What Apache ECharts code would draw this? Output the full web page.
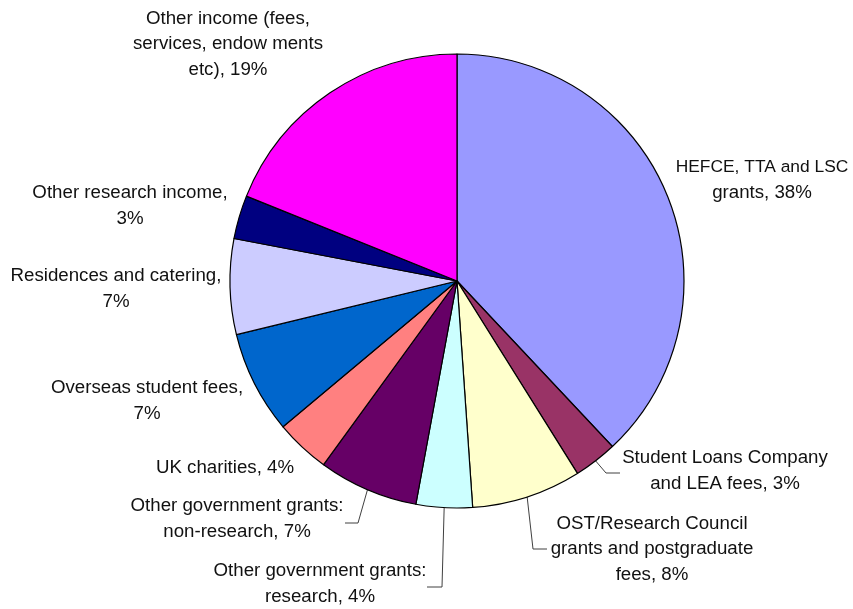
<!DOCTYPE html>
<html style="height: 100%">
<head>
<meta charset="utf-8">
<title>Sources of income</title>
<script src="https://cdn.jsdelivr.net/npm/echarts@6/dist/echarts.min.js"></script>
</head>
<body style="height: 100%; margin: 0; background: #fff">
<div id="container" style="width: 853px; height: 609px"></div>
<script type="text/javascript">
// slices, clockwise from 12 o'clock
var names = ['HEFCE, TTA and LSC grants', 'Student Loans Company and LEA fees',
    'OST/Research Council grants and postgraduate fees', 'Other government grants: research',
    'Other government grants: non-research', 'UK charities', 'Overseas student fees',
    'Residences and catering', 'Other research income', 'Other income (fees, services, endowments etc)'];
var shares = [38.0, 3.1, 7.8, 4.0, 7.1, 3.9, 7.3, 6.8, 3.1, 18.9];
var labels = [
    'HEFCE, TTA and LSC\ngrants, 38%',
    'Student Loans Company\nand LEA fees, 3%',
    'OST/Research Council\ngrants and postgraduate\nfees, 8%',
    'Other government grants:\nresearch, 4%',
    'Other government grants:\nnon-research, 7%',
    'UK charities, 4%',
    'Overseas student fees,\n7%',
    'Residences and catering,\n7%',
    'Other research income,\n3%',
    'Other income (fees,\nservices, endow ments\netc), 19%'
];
var colors = ['#9999ff', '#993366', '#ffffcc', '#ccffff', '#660066',
    '#ff8080', '#0066cc', '#ccccff', '#000080', '#ff00ff'];

// label block centres (px) and leader line elbows for the labels that have one
var labelPos = [[762, 180], [725, 471], [652, 549], [320, 584], [237, 519],
    [225, 468], [147, 401], [116, 289], [130, 206], [228, 44]];
var leaderBend = {
    1: [[606, 473], [620, 473]],
    2: [[533, 549], [547, 549]],
    3: [[442, 587], [427, 587]],
    4: [[358, 523], [345, 523]]
};

var font = 'Liberation Sans, Arial, sans-serif';
var dom = document.getElementById('container');
var myChart = echarts.init(dom);

var data = [];
for (var i = 0; i < names.length; i++) {
    data.push({
        name: names[i],
        value: shares[i],
        itemStyle: { color: colors[i] },
        labelLine: { show: !!leaderBend[i] }
    });
}

var option = {
    backgroundColor: '#ffffff',
    animation: false,
    series: [{
        type: 'pie',
        center: [457, 281],
        radius: 227,
        startAngle: 90,
        clockwise: true,
        avoidLabelOverlap: false,
        itemStyle: {
            borderColor: '#000',
            borderWidth: 1.2
        },
        label: {
            show: true,
            position: 'outside',
            color: '#111',
            fontFamily: font,
            fontSize: 18.7,
            lineHeight: 25.5,
            formatter: function (p) {
                var s = labels[p.dataIndex];
                if (p.dataIndex === 0) {
                    // first line of this label is set tighter in the original
                    var k = s.indexOf('\n');
                    s = '{tight|' + s.slice(0, k) + '}' + s.slice(k);
                }
                return s;
            },
            rich: {
                tight: {
                    fontSize: 17.4,
                    lineHeight: 25.5,
                    fontFamily: font,
                    color: '#111'
                }
            }
        },
        labelLine: {
            lineStyle: { color: '#404040', width: 1 }
        },
        emphasis: { disabled: true },
        labelLayout: function (p) {
            var i = p.dataIndex;
            var out = {
                x: labelPos[i][0],
                y: labelPos[i][1],
                align: 'center',
                verticalAlign: 'middle'
            };
            if (leaderBend[i] && p.labelLinePoints) {
                out.labelLinePoints = [p.labelLinePoints[0], leaderBend[i][0], leaderBend[i][1]];
            }
            return out;
        },
        data: data
    }]
};

myChart.setOption(option);
</script>
</body>
</html>
